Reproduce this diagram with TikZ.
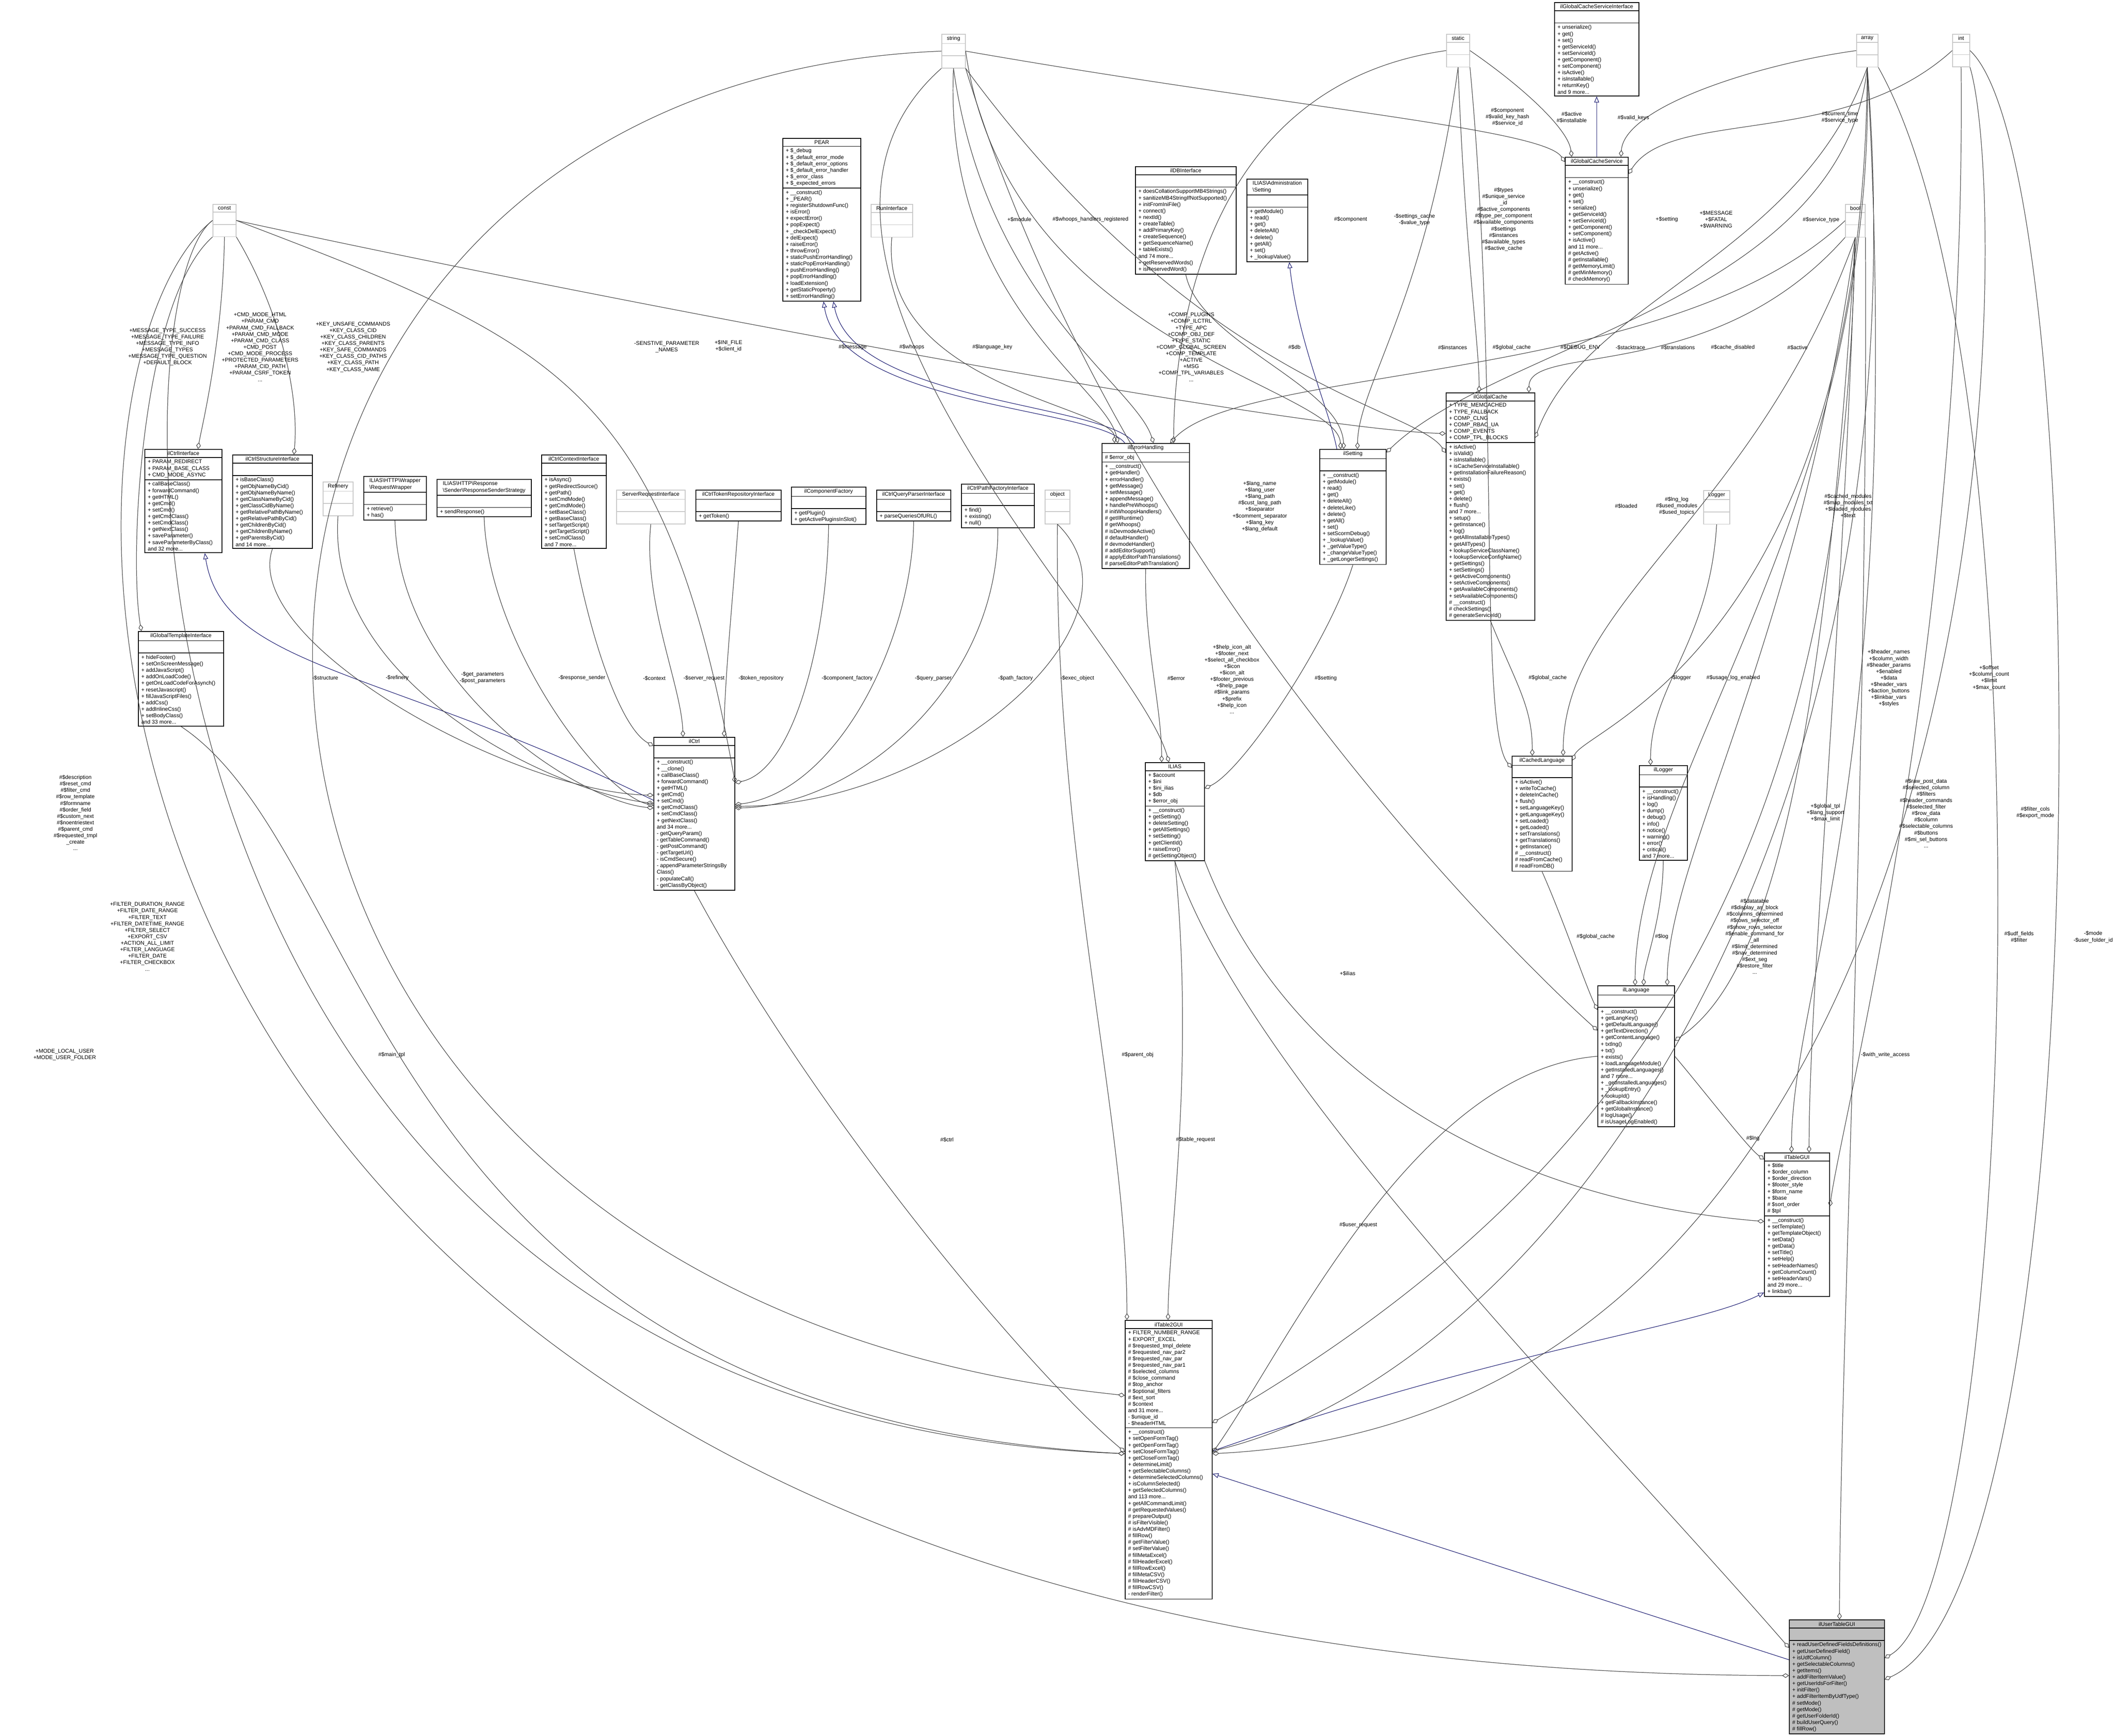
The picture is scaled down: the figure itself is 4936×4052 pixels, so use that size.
\documentclass[tikz,border=0pt]{standalone}
\usepackage{fontspec}
\setmainfont{Liberation Sans}
\usetikzlibrary{arrows.meta,shapes.multipart,positioning}
\definecolor{navyline}{RGB}{25,25,112}

\tikzset{
  cls/.style={draw, line width=0.45pt, fill=white, rectangle split, rectangle split parts=3,
    rectangle split part align={center,left,left}, align=left, anchor=north west,
    inner xsep=2pt, inner ysep=1.2pt, font=\fontsize{3.6}{4.3}\selectfont},
  typ/.style={cls, draw=gray!45},
  focus/.style={cls, fill=gray!50},
  lbl/.style={align=center, inner sep=0pt, font=\fontsize{3.6}{4.3}\selectfont},
  agg/.style={draw=black!75, line width=0.35pt, -{Diamond[open,length=4.5pt,width=3pt]}},
  inh/.style={draw=navyline, line width=0.35pt, -{Triangle[open,length=4pt,width=3.2pt]}}
}
% class box: name, x, y (top left), min width, title, attributes, methods
\newcommand{\umlclass}[8][cls]{%
  \node[#1, minimum width=#5*0.01cm] (#2) at (#3,#4)
    {#6\nodepart{two}#7\nodepart{three}#8};}
\newcommand{\umltype}[5]{\umlclass[typ]{#1}{#2}{#3}{#4}{#5}{\mbox{}}{\mbox{}}}
% point on a box, in px from its top left / top right corner
\newcommand{\pl}[3]{([shift={(#2,#3)}]#1.north west)}
\newcommand{\pr}[3]{([shift={(#2,#3)}]#1.north east)}
% edge label
\newcommand{\lb}[4]{\node[lbl] (#1) at (#2,#3) {#4};}

\begin{document}
\catcode`\_=12 \catcode`\$=12
\begin{tikzpicture}[x=0.01cm, y=-0.01cm]
\useasboundingbox (0,0) rectangle (4936,4052);

% plain types
\umltype{tstring}{2197}{79}{55}{string}
\umltype{tconst}{496}{476}{54}{const}
\umltype{tstatic}{3375}{79}{54}{static}
\umltype{tarray}{4332}{79}{50}{array}
\umltype{tint}{4556}{79}{40}{int}
\umltype{tbool}{4306}{476}{46}{bool}
\umltype{runif}{2032}{476}{97}{RunInterface}
\umltype{refinery}{753}{1124}{70}{Refinery}
\umltype{srvreq}{1438}{1143}{160}{ServerRequestInterface}
\umltype{objtype}{2438}{1143}{58}{object}
\umltype{logger}{3975}{1144}{61}{Logger}

% classes
\umlclass{pear}{1826}{322}{182}{PEAR}{+ $_debug\\+ $_default_error_mode\\+ $_default_error_options\\+ $_default_error_handler\\+ $_error_class\\+ $_expected_errors}{+ __construct()\\+ _PEAR()\\+ registerShutdownFunc()\\+ isError()\\+ expectError()\\+ popExpect()\\+ _checkDelExpect()\\+ delExpect()\\+ raiseError()\\+ throwError()\\+ staticPushErrorHandling()\\+ staticPopErrorHandling()\\+ pushErrorHandling()\\+ popErrorHandling()\\+ loadExtension()\\+ getStaticProperty()\\+ setErrorHandling()}
\umlclass{gcsi}{3627}{5}{197}{ilGlobalCacheServiceInterface}{\mbox{}}{+ unserialize()\\+ get()\\+ set()\\+ getServiceId()\\+ setServiceId()\\+ getComponent()\\+ setComponent()\\+ isActive()\\+ isInstallable()\\+ returnKey()\\and 9 more...}
\umlclass{gcs}{3652}{366}{147}{ilGlobalCacheService}{\mbox{}}{+ __construct()\\+ unserialize()\\+ get()\\+ set()\\+ serialize()\\+ getServiceId()\\+ setServiceId()\\+ getComponent()\\+ setComponent()\\+ isActive()\\and 11 more...\\\# getActive()\\\# getInstallable()\\\# getMemoryLimit()\\\# getMinMemory()\\\# checkMemory()}
\umlclass{ildb}{2649}{388}{235}{ilDBInterface}{\mbox{}}{+ doesCollationSupportMB4Strings()\\+ sanitizeMB4StringIfNotSupported()\\+ initFromIniFile()\\+ connect()\\+ nextId()\\+ createTable()\\+ addPrimaryKey()\\+ createSequence()\\+ getSequenceName()\\+ tableExists()\\and 74 more...\\+ getReservedWords()\\+ isReservedWord()}
\umlclass{admset}{2909}{417}{142}{ILIAS\textbackslash Administration\\\textbackslash Setting}{\mbox{}}{+ getModule()\\+ read()\\+ get()\\+ deleteAll()\\+ delete()\\+ getAll()\\+ set()\\+ _lookupValue()}
\umlclass{ilerr}{2571}{1034}{204}{ilErrorHandling}{\# $error_obj}{+ __construct()\\+ getHandler()\\+ errorHandler()\\+ getMessage()\\+ setMessage()\\+ appendMessage()\\+ handlePreWhoops()\\\# initWhoopsHandlers()\\\# getIlRuntime()\\\# getWhoops()\\\# isDevmodeActive()\\\# defaultHandler()\\\# devmodeHandler()\\\# addEditorSupport()\\\# applyEditorPathTranslations()\\\# parseEditorPathTranslation()}
\umlclass{ilset}{3079}{1048}{155}{ilSetting}{\mbox{}}{+ __construct()\\+ getModule()\\+ read()\\+ get()\\+ deleteAll()\\+ deleteLike()\\+ delete()\\+ getAll()\\+ set()\\+ setScormDebug()\\+ _lookupValue()\\+ _getValueType()\\+ _changeValueType()\\+ _getLongerSettings()}
\umlclass{gcache}{3374}{916}{207}{ilGlobalCache}{+ TYPE_MEMCACHED\\+ TYPE_FALLBACK\\+ COMP_CLNG\\+ COMP_RBAC_UA\\+ COMP_EVENTS\\+ COMP_TPL_BLOCKS}{+ isActive()\\+ isValid()\\+ isInstallable()\\+ isCacheServiceInstallable()\\+ getInstallationFailureReason()\\+ exists()\\+ set()\\+ get()\\+ delete()\\+ flush()\\and 7 more...\\+ setup()\\+ getInstance()\\+ log()\\+ getAllInstallableTypes()\\+ getAllTypes()\\+ lookupServiceClassName()\\+ lookupServiceConfigName()\\+ getSettings()\\+ setSettings()\\+ getActiveComponents()\\+ setActiveComponents()\\+ getAvailableComponents()\\+ setAvailableComponents()\\\# __construct()\\\# checkSettings()\\\# generateServiceId()}
\umlclass{ctrlif}{337}{1048}{180}{ilCtrlInterface}{+ PARAM_REDIRECT\\+ PARAM_BASE_CLASS\\+ CMD_MODE_ASYNC}{+ callBaseClass()\\+ forwardCommand()\\+ getHTML()\\+ getCmd()\\+ setCmd()\\+ getCmdClass()\\+ setCmdClass()\\+ getNextClass()\\+ saveParameter()\\+ saveParameterByClass()\\and 32 more...}
\umlclass{ctrlstr}{542}{1061}{186}{ilCtrlStructureInterface}{\mbox{}}{+ isBaseClass()\\+ getObjNameByCid()\\+ getObjNameByName()\\+ getClassNameByCid()\\+ getClassCidByName()\\+ getRelativePathByName()\\+ getRelativePathByCid()\\+ getChildrenByCid()\\+ getChildrenByName()\\+ getParentsByCid()\\and 14 more...}
\umlclass{reqwrap}{848}{1111}{146}{ILIAS\textbackslash HTTP\textbackslash Wrapper\\\textbackslash RequestWrapper}{\mbox{}}{+ retrieve()\\+ has()}
\umlclass{respsend}{1019}{1118}{220}{ILIAS\textbackslash HTTP\textbackslash Response\\\textbackslash Sender\textbackslash ResponseSenderStrategy}{\mbox{}}{+ sendResponse()}
\umlclass{ctrlctx}{1263}{1061}{151}{ilCtrlContextInterface}{\mbox{}}{+ isAsync()\\+ getRedirectSource()\\+ getPath()\\+ setCmdMode()\\+ getCmdMode()\\+ setBaseClass()\\+ getBaseClass()\\+ setTargetScript()\\+ getTargetScript()\\+ setCmdClass()\\and 7 more...}
\umlclass{tokenrepo}{1623}{1143}{199}{ilCtrlTokenRepositoryInterface}{\mbox{}}{+ getToken()}
\umlclass{compfac}{1846}{1136}{174}{ilComponentFactory}{\mbox{}}{+ getPlugin()\\+ getActivePluginsInSlot()}
\umlclass{qparser}{2045}{1143}{173}{ilCtrlQueryParserInterface}{\mbox{}}{+ parseQueriesOfURL()}
\umlclass{pathfac}{2243}{1129}{170}{ilCtrlPathFactoryInterface}{\mbox{}}{+ find()\\+ existing()\\+ null()}
\umlclass{ilctrl}{1525}{1720}{189}{ilCtrl}{\mbox{}}{+ __construct()\\+ __clone()\\+ callBaseClass()\\+ forwardCommand()\\+ getHTML()\\+ getCmd()\\+ setCmd()\\+ getCmdClass()\\+ setCmdClass()\\+ getNextClass()\\and 34 more...\\- getQueryParam()\\- getTableCommand()\\- getPostCommand()\\- getTargetUrl()\\- isCmdSecure()\\- appendParameterStringsBy\\Class()\\- populateCall()\\- getClassByObject()}
\umlclass{ilias}{2672}{1779}{138}{ILIAS}{+ $account\\+ $ini\\+ $ini_ilias\\+ $db\\+ $error_obj}{+ __construct()\\+ getSetting()\\+ deleteSetting()\\+ getAllSettings()\\+ setSetting()\\+ getClientId()\\+ raiseError()\\\# getSettingObject()}
\umlclass{gtpl}{322}{1473}{199}{ilGlobalTemplateInterface}{\mbox{}}{+ hideFooter()\\+ setOnScreenMessage()\\+ addJavaScript()\\+ addOnLoadCode()\\+ getOnLoadCodeForAsynch()\\+ resetJavascript()\\+ fillJavaScriptFiles()\\+ addCss()\\+ addInlineCss()\\+ setBodyClass()\\and 33 more...}
\umlclass{clang}{3528}{1764}{140}{ilCachedLanguage}{\mbox{}}{+ isActive()\\+ writeToCache()\\+ deleteInCache()\\+ flush()\\+ setLanguageKey()\\+ getLanguageKey()\\+ setLoaded()\\+ getLoaded()\\+ setTranslations()\\+ getTranslations()\\+ getInstance()\\\# __construct()\\\# readFromCache()\\\# readFromDB()}
\umlclass{illogger}{3825}{1786}{112}{ilLogger}{\mbox{}}{+ __construct()\\+ isHandling()\\+ log()\\+ dump()\\+ debug()\\+ info()\\+ notice()\\+ warning()\\+ error()\\+ critical()\\and 7 more...}
\umlclass{ilang}{3728}{2300}{179}{ilLanguage}{\mbox{}}{+ __construct()\\+ getLangKey()\\+ getDefaultLanguage()\\+ getTextDirection()\\+ getContentLanguage()\\+ txtlng()\\+ txt()\\+ exists()\\+ loadLanguageModule()\\+ getInstalledLanguages()\\and 7 more...\\+ _getInstalledLanguages()\\+ _lookupEntry()\\+ lookupId()\\+ getFallbackInstance()\\+ getGlobalInstance()\\\# logUsage()\\\# isUsageLogEnabled()}
\umlclass{tablegui}{4117}{2690}{152}{ilTableGUI}{+ $title\\+ $order_column\\+ $order_direction\\+ $footer_style\\+ $form_name\\+ $base\\\# $sort_order\\\# $tpl}{+ __construct()\\+ setTemplate()\\+ getTemplateObject()\\+ setData()\\+ getData()\\+ setTitle()\\+ setHelp()\\+ setHeaderNames()\\+ getColumnCount()\\+ setHeaderVars()\\and 29 more...\\+ linkbar()}
\umlclass{table2}{2625}{3081}{203}{ilTable2GUI}{+ FILTER_NUMBER_RANGE\\+ EXPORT_EXCEL\\\# $requested_tmpl_delete\\\# $requested_nav_par2\\\# $requested_nav_par\\\# $requested_nav_par1\\\# $selected_columns\\\# $close_command\\\# $top_anchor\\\# $optional_filters\\\# $ext_sort\\\# $context\\and 31 more...\\- $unique_id\\- $headerHTML}{+ __construct()\\+ setOpenFormTag()\\+ getOpenFormTag()\\+ setCloseFormTag()\\+ getCloseFormTag()\\+ determineLimit()\\+ getSelectableColumns()\\+ determineSelectedColumns()\\+ isColumnSelected()\\+ getSelectedColumns()\\and 113 more...\\+ getAllCommandLimit()\\\# getRequestedValues()\\\# prepareOutput()\\\# isFilterVisible()\\\# isAdvMDFilter()\\\# fillRow()\\\# getFilterValue()\\\# setFilterValue()\\\# fillMetaExcel()\\\# fillHeaderExcel()\\\# fillRowExcel()\\\# fillMetaCSV()\\\# fillHeaderCSV()\\\# fillRowCSV()\\- renderFilter()}
\umlclass[focus]{usertable}{4175}{3780}{165}{ilUserTableGUI}{\mbox{}}{+ readUserDefinedFieldsDefinitions()\\+ getUserDefinedField()\\+ isUdfColumn()\\+ getSelectableColumns()\\+ getItems()\\+ addFilterItemValue()\\+ getUserIdsForFilter()\\+ initFilter()\\+ addFilterItemByUdfType()\\\# setMode()\\\# getMode()\\\# getUserFolderId()\\\# buildUserQuery()\\\# fillRow()}

% inheritance
\draw[inh] \pl{ilerr}{54}{0} .. controls (2560,950) and (1960,950) .. ([shift={(96,0)}]pear.south west);
\draw[inh] \pl{ilerr}{76}{0} .. controls (2580,940) and (1990,940) .. ([shift={(119,0)}]pear.south west);
\draw[inh] \pl{ilset}{41}{0} .. controls (3100,950) and (3030,800) .. ([shift={(100,0)}]admset.south west);
\draw[inh] (gcs.north) -- (gcsi.south);
\draw[inh] \pl{ilctrl}{0}{148} .. controls (900,1560) and (520,1560) .. ([shift={(141,0)}]ctrlif.south west);
\draw[inh] \pr{table2}{0}{306} .. controls (3500,3150) and (3950,3100) .. \pl{tablegui}{0}{327};
\draw[inh] \pl{usertable}{0}{94} -- \pr{table2}{0}{359};

% aggregation from plain types
\draw[agg] (tconst.south) .. controls (520,800) and (470,1000) .. \pl{ctrlif}{125}{0};
\draw[agg] (tconst.south east) .. controls (640,700) and (700,900) .. \pl{ctrlstr}{144}{0};
\draw[agg] (tconst.south west) .. controls (330,700) and (300,1300) .. \pl{gtpl}{8}{0};
\draw[agg] (tconst.west) .. controls (250,700) and (247,3300) .. \pl{table2}{0}{312};
\draw[agg] (tconst.west) .. controls (20,900) and (0,3900) .. \pl{usertable}{0}{131};
\draw[agg] (tconst.east) .. controls (1300,800) and (1550,900) .. \pr{ilctrl}{0}{107};
\draw[agg] (tconst.east) .. controls (1400,700) and (3000,1000) .. \pl{gcache}{0}{96};
\draw[agg] (tstring.south west) .. controls (1700,600) and (2650,1500) .. \pl{ilias}{56}{0};
\draw[agg] (tstring.south) .. controls (2200,700) and (2580,900) .. \pl{ilerr}{38}{0};
\draw[agg] (tstring.south) .. controls (2300,700) and (2650,900) .. \pl{ilerr}{121}{0};
\draw[agg] (tstring.west) .. controls (200,200) and (150,3000) .. \pl{table2}{0}{176};
\draw[agg] (tstring.east) .. controls (2350,800) and (3120,900) .. \pl{ilset}{50}{0};
\draw[agg] (tstring.east) .. controls (3000,250) and (3600,300) .. \pl{gcs}{0}{12};
\draw[agg] (tstring.south east) .. controls (2600,1300) and (3500,2200) .. \pl{ilang}{0}{105};
\draw[agg] (tstring.south east) .. controls (2800,900) and (3300,950) .. \pl{gcache}{0}{141};
\draw[agg] (tstatic.west) .. controls (2800,200) and (2740,800) .. \pl{ilerr}{168}{0};
\draw[agg] (tstatic.south) .. controls (3330,700) and (3170,900) .. \pl{ilset}{89}{0};
\draw[agg] (tstatic.south) .. controls (3420,600) and (3452,800) .. \pl{gcache}{78}{0};
\draw[agg] (tstatic.east) .. controls (3550,200) and (3660,300) .. \pl{gcs}{16}{0};
\draw[agg] (tstatic.south east) .. controls (3500,900) and (3450,1700) .. \pl{clang}{0}{28};
\draw[agg] (runif.south) .. controls (2050,900) and (2600,950) .. \pl{ilerr}{30}{0};
\draw[agg] (ildb.south) .. controls (2800,800) and (3130,900) .. \pl{ilset}{57}{0};
\draw[agg] (tarray.west) .. controls (4100,150) and (3790,250) .. \pl{gcs}{131}{0};
\draw[agg] (tarray.south) .. controls (4300,700) and (3500,800) .. \pr{ilset}{0}{8};
\draw[agg] (tarray.south) .. controls (4350,1500) and (3700,1700) .. \pr{clang}{0}{11};
\draw[agg] (tarray.south) .. controls (4380,1200) and (3816,1800) .. \pl{ilang}{88}{0};
\draw[agg] (tarray.south) .. controls (4450,1800) and (4181,2300) .. \pl{tablegui}{64}{0};
\draw[agg] (tarray.south) .. controls (4500,2000) and (3600,3200) .. \pr{table2}{0}{306};
\draw[agg] (tarray.south east) .. controls (4800,900) and (4700,3700) .. \pr{usertable}{0}{90};
\draw[agg] (tarray.south) .. controls (4200,600) and (3700,700) .. \pr{gcache}{0}{106};
\draw[agg] (tint.west) .. controls (4300,350) and (3900,250) .. \pr{gcs}{0}{40};
\draw[agg] (tint.south) .. controls (4590,1500) and (4300,2600) .. \pr{tablegui}{0}{126};
\draw[agg] (tint.south east) .. controls (4700,500) and (4700,3300) .. \pr{table2}{0}{312};
\draw[agg] (tint.east) .. controls (4900,400) and (4900,3700) .. \pr{usertable}{0}{140};
\draw[agg] (tbool.west) .. controls (3900,900) and (2900,850) .. \pl{ilerr}{160}{0};
\draw[agg] (tbool.south west) .. controls (4000,900) and (3570,800) .. \pl{gcache}{194}{0};
\draw[agg] (tbool.south) .. controls (4100,1200) and (3650,1400) .. \pl{clang}{120}{0};
\draw[agg] (tbool.south) .. controls (4200,1500) and (3891,2000) .. \pl{ilang}{163}{0};
\draw[agg] (tbool.south) .. controls (4300,1500) and (4222,2300) .. \pl{tablegui}{105}{0};
\draw[agg] (tbool.south) .. controls (4250,1900) and (4100,2300) .. \pr{ilang}{0}{129};
\draw[agg] (tbool.south) .. controls (4300,1900) and (3900,2700) .. \pr{table2}{0}{240};
\draw[agg] (tbool.south east) .. controls (4360,1800) and (4293,3200) .. \pl{usertable}{118}{0};

% aggregation between classes
\draw[agg] (ctrlstr.south) .. controls (560,1500) and (1200,1850) .. \pl{ilctrl}{0}{136};
\draw[agg] (refinery.south) .. controls (760,1600) and (1300,1850) .. \pl{ilctrl}{0}{155};
\draw[agg] (reqwrap.south) .. controls (930,1600) and (1350,1870) .. \pl{ilctrl}{0}{166};
\draw[agg] (respsend.south) .. controls (1140,1500) and (1400,1850) .. \pl{ilctrl}{0}{160};
\draw[agg] (ctrlctx.south) .. controls (1380,1500) and (1450,1700) .. \pl{ilctrl}{0}{21};
\draw[agg] (srvreq.south) .. controls (1500,1400) and (1590,1600) .. \pl{ilctrl}{69}{0};
\draw[agg] (tokenrepo.south) .. controls (1710,1400) and (1690,1600) .. \pl{ilctrl}{165}{0};
\draw[agg] (compfac.south) .. controls (1930,1500) and (1850,1800) .. \pr{ilctrl}{0}{107};
\draw[agg] (qparser.south) .. controls (2130,1500) and (1950,1850) .. \pr{ilctrl}{0}{158};
\draw[agg] (pathfac.south) .. controls (2330,1600) and (2000,1880) .. \pr{ilctrl}{0}{166};
\draw[agg] (objtype.south) .. controls (2700,1450) and (2200,1880) .. \pr{ilctrl}{0}{162};
\draw[agg] (ilerr.south) .. controls (2670,1500) and (2711,1650) .. \pl{ilias}{39}{0};
\draw[agg] (ilset.south) .. controls (3100,1500) and (2900,1800) .. \pr{ilias}{0}{61};
\draw[agg] (logger.south) .. controls (3990,1500) and (3852,1600) .. \pl{illogger}{27}{0};
\draw[agg] (gcache.south) .. controls (3540,1600) and (3576,1650) .. \pl{clang}{48}{0};
\draw[agg] (clang.south) .. controls (3650,2150) and (3700,2300) .. \pl{ilang}{0}{57};
\draw[agg] (illogger.south) .. controls (3880,2150) and (3836,2250) .. \pl{ilang}{108}{0};
\draw[agg] (ilang.east) .. controls (3980,2550) and (4080,2680) .. \pl{tablegui}{0}{16};
\draw[agg] (ilang.west) .. controls (3300,2500) and (3000,3150) .. \pr{table2}{0}{310};
\draw[agg] (gtpl.south) .. controls (880,2000) and (880,3300) .. \pl{table2}{0}{312};
\draw[agg] (ilctrl.south) .. controls (1900,2600) and (2400,3200) .. \pl{table2}{0}{308};
\draw[agg] (objtype.south) .. controls (2460,2000) and (2630,2600) .. \pl{table2}{5}{0};
\draw[agg] (ilias.south) .. controls (2790,2500) and (2726,2900) .. \pl{table2}{101}{0};
\draw[agg] (ilias.south east) .. controls (3000,2500) and (3500,2800) .. \pl{tablegui}{0}{161};
\draw[agg] (ilias.south) .. controls (2900,2500) and (3700,3300) .. \pl{usertable}{0}{66};

% labels
\lb{la}{391}{810}{+MESSAGE_TYPE_SUCCESS\\+MESSAGE_TYPE_FAILURE\\+MESSAGE_TYPE_INFO\\+MESSAGE_TYPES\\+MESSAGE_TYPE_QUESTION\\+DEFAULT_BLOCK}
\lb{lb}{607}{810}{+CMD_MODE_HTML\\+PARAM_CMD\\+PARAM_CMD_FALLBACK\\+PARAM_CMD_MODE\\+PARAM_CMD_CLASS\\+CMD_POST\\+CMD_MODE_PROCESS\\+PROTECTED_PARAMETERS\\+PARAM_CID_PATH\\+PARAM_CSRF_TOKEN\\...}
\lb{lc}{824}{810}{+KEY_UNSAFE_COMMANDS\\+KEY_CLASS_CID\\+KEY_CLASS_CHILDREN\\+KEY_CLASS_PARENTS\\+KEY_SAFE_COMMANDS\\+KEY_CLASS_CID_PATHS\\+KEY_CLASS_PATH\\+KEY_CLASS_NAME}
\lb{ld}{1556}{810}{-SENSTIVE_PARAMETER\\_NAMES}
\lb{le}{1700}{808}{+$INI_FILE\\+$client_id}
\lb{lf}{1990}{810}{\#$message}
\lb{lg}{2128}{810}{\#$whoops}
\lb{lh}{2316}{810}{\#$language_key}
\lb{li}{2379}{512}{+$module}
\lb{lj}{2545}{512}{\#$whoops_handlers_registered}
\lb{lk}{2780}{810}{+COMP_PLUGINS\\+COMP_ILCTRL\\+TYPE_APC\\+COMP_OBJ_DEF\\+TYPE_STATIC\\+COMP_GLOBAL_SCREEN\\+COMP_TEMPLATE\\+ACTIVE\\+MSG\\+COMP_TPL_VARIABLES\\...}
\lb{ll}{3021}{810}{\#$db}
\lb{lm}{3152}{512}{\#$component}
\lb{ln}{3301}{513}{-$settings_cache\\-$value_type}
\lb{lo}{3509}{512}{\#$types\\\#$unique_service\\_id\\\#$active_components\\\#$type_per_component\\\#$available_components\\\#$settings\\\#$instances\\\#$available_types\\\#$active_cache}
\lb{lp}{3518}{273}{\#$component\\\#$valid_key_hash\\\#$service_id}
\lb{lq}{3668}{274}{\#$active\\\#$installable}
\lb{lr}{3812}{275}{\#$valid_keys}
\lb{ls}{3890}{512}{+$setting}
\lb{lt}{4005}{512}{+$MESSAGE\\+$FATAL\\+$WARNING}
\lb{lu}{4294}{274}{\#$current_time\\\#$service_type}
\lb{lv}{4250}{513}{\#$service_type}
\lb{lw1}{3390}{811}{\#$instances}
\lb{lw2}{3528}{811}{\#$global_cache}
\lb{lw3}{3688}{811}{\#$DEBUG_ENV}
\lb{lw4}{3805}{811}{-$stacktrace}
\lb{lw5}{3916}{811}{\#$translations}
\lb{lw6}{4044}{811}{\#$cache_disabled}
\lb{lw7}{4195}{811}{\#$active}
\lb{lx}{2940}{1182}{+$lang_name\\+$lang_user\\+$lang_path\\\#$cust_lang_path\\+$separator\\+$comment_separator\\+$lang_key\\+$lang_default}
\lb{ly1}{3795}{1181}{\#$loaded}
\lb{ly2}{3913}{1181}{\#$lng_log\\\#$used_modules\\\#$used_topics}
\lb{ly3}{4313}{1181}{\#$cached_modules\\\#$map_modules_txt\\+$loaded_modules\\+$text}
\lb{lz}{2875}{1585}{+$help_icon_alt\\+$footer_next\\+$select_all_checkbox\\+$icon\\+$icon_alt\\+$footer_previous\\+$help_page\\\#$link_params\\+$prefix\\+$help_icon\\...}
\lb{m1}{759}{1582}{-$structure}
\lb{m2}{927}{1582}{-$refinery}
\lb{m3}{1126}{1582}{-$get_parameters\\-$post_parameters}
\lb{m4}{1358}{1582}{-$response_sender}
\lb{m5}{1527}{1583}{-$context}
\lb{m6}{1643}{1583}{-$server_request}
\lb{m7}{1776}{1583}{-$token_repository}
\lb{m8}{1977}{1583}{-$component_factory}
\lb{m9}{2178}{1583}{-$query_parser}
\lb{m10}{2370}{1583}{-$path_factory}
\lb{m11}{2514}{1583}{-$exec_object}
\lb{m12}{2745}{1583}{\#$error}
\lb{m13}{3094}{1583}{\#$setting}
\lb{m14}{3612}{1582}{\#$global_cache}
\lb{m15}{3923}{1582}{-$logger}
\lb{m16}{4045}{1582}{\#$usage_log_enabled}
\lb{m17}{4408}{1583}{+$header_names\\+$column_width\\\#$header_params\\+$enabled\\+$data\\+$header_vars\\+$action_buttons\\+$linkbar_vars\\+$styles}
\lb{m18}{4642}{1582}{+$offset\\+$column_count\\+$limit\\+$max_count}
\lb{n1}{176}{1897}{\#$description\\\#$reset_cmd\\\#$filter_cmd\\\#$row_template\\\#$formname\\\#$order_field\\\#$custom_next\\\#$noentriestext\\\#$parent_cmd\\\#$requested_tmpl\\_create\\...}
\lb{n2}{4495}{1898}{\#$raw_post_data\\\#$selected_column\\\#$filters\\\#$header_commands\\\#$selected_filter\\\#$row_data\\\#$column\\\#$selectable_columns\\\#$buttons\\\#$mi_sel_buttons\\...}
\lb{n3}{4260}{1897}{+$global_tpl\\+$lang_support\\+$max_limit}
\lb{n4}{4750}{1897}{\#$filter_cols\\\#$export_mode}
\lb{n5}{3724}{2186}{\#$global_cache}
\lb{n6}{3878}{2186}{\#$log}
\lb{n7}{4095}{2186}{\#$datatable\\\#$display_as_block\\\#$columns_determined\\\#$rows_selector_off\\\#$show_rows_selector\\\#$enable_command_for\\_all\\\#$limit_determined\\\#$nav_determined\\\#$ext_seg\\\#$restore_filter\\...}
\lb{n8}{4712}{2187}{\#$udf_fields\\\#$filter}
\lb{n9}{4885}{2187}{-$mode\\-$user_folder_id}
\lb{n10}{344}{2186}{+FILTER_DURATION_RANGE\\+FILTER_DATE_RANGE\\+FILTER_TEXT\\+FILTER_DATETIME_RANGE\\+FILTER_SELECT\\+EXPORT_CSV\\+ACTION_ALL_LIMIT\\+FILTER_LANGUAGE\\+FILTER_DATE\\+FILTER_CHECKBOX\\...}
\lb{n11}{3145}{2272}{+$ilias}
\lb{n12}{151}{2462}{+MODE_LOCAL_USER\\+MODE_USER_FOLDER}
\lb{n13}{914}{2462}{\#$main_tpl}
\lb{n14}{2655}{2462}{\#$parent_obj}
\lb{n15}{4400}{2462}{-$with_write_access}
\lb{n16}{2210}{2660}{\#$ctrl}
\lb{n17}{2790}{2660}{\#$table_request}
\lb{n18}{4091}{2657}{\#$lng}
\lb{n19}{3170}{2859}{\#$user_request}
\end{tikzpicture}
\end{document}
